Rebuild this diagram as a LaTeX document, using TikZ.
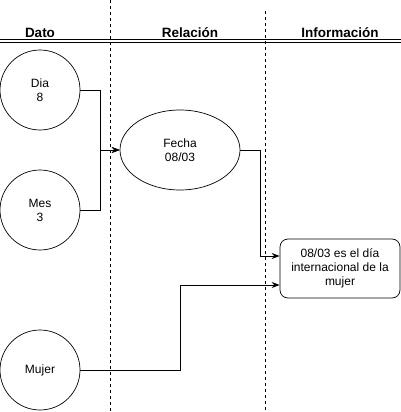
\documentclass[tikz,border=0pt]{standalone}
\usepackage{fontspec}
\setmainfont{Liberation Sans}
\usetikzlibrary{arrows.meta,shapes.geometric}
\begin{document}
\begin{tikzpicture}[x=1pt,y=-1pt,
  every node/.style={font=\fontsize{12}{14}\selectfont, align=center},
  lane/.style={line width=0.8pt, dash pattern=on 3pt off 3pt},
  hdr/.style={font=\fontsize{13.5}{15}\selectfont\bfseries},
  dot/.style={draw, circle, minimum size=80pt, inner sep=0pt, line width=0.7pt},
  rel/.style={draw, ellipse, minimum width=120pt, minimum height=80pt, inner sep=0pt, line width=0.7pt},
  info/.style={draw, rounded corners=8pt, minimum width=120pt, minimum height=59pt, inner sep=0pt, line width=0.7pt},
  link/.style={line width=0.9pt, -{Stealth[length=8pt,width=6pt]}}]
\useasboundingbox (0,0) rectangle (401,412);
% column separators
\draw[lane] (110,0) -- (110,412);
\draw[lane] (265,11) -- (265,412);
% header rule
\draw[line width=1pt] (0,39.3) -- (401,39.3);
\draw[line width=1pt] (0,42.5) -- (401,42.5);
\node[hdr] (hdato) at (40,32.5) {Dato};
\node[hdr] (hrel) at (190,32.5) {Relación};
\node[hdr] (hinfo) at (340,32.5) {Información};
% nodes
\node[dot] (dia) at (40,90) {Dia\\8};
\node[dot] (mes) at (40,210) {Mes\\3};
\node[dot] (mujer) at (40,370) {Mujer};
\node[rel] (fecha) at (180,150) {Fecha\\08/03};
\node[info] (dato) at (340,268.5) {08/03 es el día\\internacional de la\\mujer};
% connectors
\draw[link] (dia.east) -- (100,90) |- (fecha.west);
\draw[link] (mes.east) -- (100,210) |- (fecha.west);
\draw[link] (fecha.east) -- (260.5,150) |- (dato.west |- 0,256);
\draw[link] (mujer.east) -- (180,370) |- (dato.west |- 0,285);
\end{tikzpicture}
\end{document}
